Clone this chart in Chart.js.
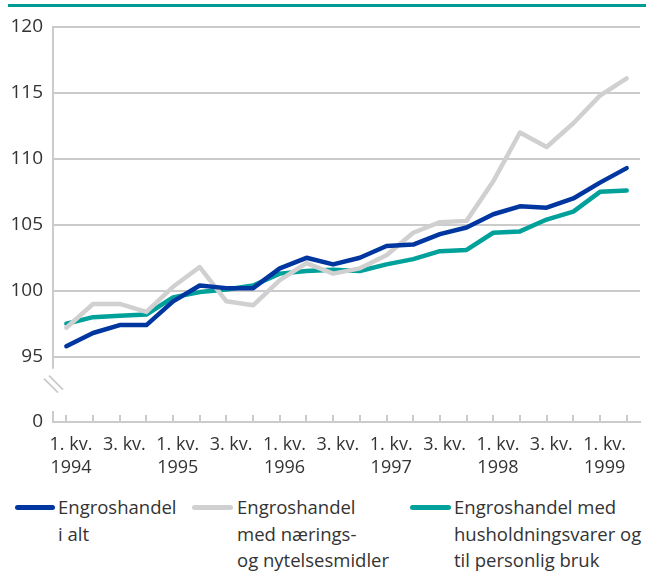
<!DOCTYPE html>
<html>
<head>
<meta charset="utf-8">
<script src="https://cdn.jsdelivr.net/npm/chart.js@4.4.1/dist/chart.umd.min.js"></script>
<style>
  body { margin: 0; background: #fff; font-family: "Open Sans", sans-serif; color: #333; }
  #wrap { position: relative; width: 646px; height: 574px; }
  #topRule { position: absolute; left: 8px; right: 0; top: 4px; height: 3px; background: #009a94; }
  #chartBox { position: absolute; left: 0; top: 0; width: 646px; height: 494px; }
  .legend { position: absolute; top: 494px; font-size: 18.5px; line-height: 26.5px; color: #333; white-space: nowrap; }
  .legend .sw { position: absolute; top: 11px; height: 5px; border-radius: 3px; }
</style>
</head>
<body>
<div id="wrap">
  <div id="chartBox"><canvas id="indexChart"></canvas></div>
  <div id="topRule"></div>
  <div class="legend" style="left:58px"><span class="sw" style="left:-43px;width:40px;background:#0036a0"></span>Engroshandel<br>i alt</div>
  <div class="legend" style="left:237px"><span class="sw" style="left:-45px;width:41px;background:#d0d0d0"></span>Engroshandel<br>med nærings-<br>og nytelsesmidler</div>
  <div class="legend" style="left:454px"><span class="sw" style="left:-44px;width:41px;background:#00a19a"></span>Engroshandel med<br>husholdningsvarer og<br>til personlig bruk</div>
</div>
<script>
// quarters 1994 Q1 - 1999 Q2
const quarters = [
  "1. kv. 1994", "2. kv. 1994", "3. kv. 1994", "4. kv. 1994",
  "1. kv. 1995", "2. kv. 1995", "3. kv. 1995", "4. kv. 1995",
  "1. kv. 1996", "2. kv. 1996", "3. kv. 1996", "4. kv. 1996",
  "1. kv. 1997", "2. kv. 1997", "3. kv. 1997", "4. kv. 1997",
  "1. kv. 1998", "2. kv. 1998", "3. kv. 1998", "4. kv. 1998",
  "1. kv. 1999", "2. kv. 1999"
];
const tickLabels = [
  ["1. kv.", "1994"], "", ["3. kv.", ""], "",
  ["1. kv.", "1995"], "", ["3. kv.", ""], "",
  ["1. kv.", "1996"], "", ["3. kv.", ""], "",
  ["1. kv.", "1997"], "", ["3. kv.", ""], "",
  ["1. kv.", "1998"], "", ["3. kv.", ""], "",
  ["1. kv.", "1999"], ""
];

const totalValues = [95.8, 96.8, 97.4, 97.4, 99.2, 100.4, 100.2, 100.2, 101.7, 102.5, 102.0, 102.5,
  103.4, 103.5, 104.3, 104.8, 105.8, 106.4, 106.3, 107.0, 108.2, 109.3];
const foodValues = [97.2, 99.0, 99.0, 98.4, 100.3, 101.8, 99.2, 98.9, 100.8, 102.1, 101.3, 101.7,
  102.7, 104.4, 105.2, 105.3, 108.3, 112.0, 110.9, 112.7, 114.8, 116.1];
const householdValues = [97.5, 98.0, 98.1, 98.2, 99.5, 99.9, 100.1, 100.4, 101.3, 101.5, 101.6, 101.5,
  102.0, 102.4, 103.0, 103.1, 104.4, 104.5, 105.4, 106.0, 107.5, 107.6];

const yTicks = [95, 100, 105, 110, 115, 120];
const yBreakValue = 90.05; // where "0" sits below the axis break

const gridGray = "#cbcbcb";

// y axis line with a break between 95 and 0
const axisBreak = {
  id: "axisBreak",
  afterDraw(chart) {
    const c = chart.ctx;
    const y = chart.scales.y;
    const x0 = chart.chartArea.left;
    const yTop = y.getPixelForValue(120);
    const y95 = y.getPixelForValue(95);
    const yBot = chart.chartArea.bottom;
    c.save();
    c.strokeStyle = gridGray;
    c.lineWidth = 2;
    c.beginPath();
    c.moveTo(x0, yTop - 1);
    c.lineTo(x0, y95 + 12);
    c.moveTo(x0, yBot - 11);
    c.lineTo(x0, yBot);
    c.stroke();
    c.lineWidth = 1.8;
    c.beginPath();
    c.moveTo(x0 - 9, y95 + 22);
    c.lineTo(x0 + 5, y95 + 36);
    c.moveTo(x0 - 4, y95 + 19);
    c.lineTo(x0 + 10, y95 + 33);
    c.stroke();
    c.restore();
  }
};

const ctx = document.getElementById("indexChart").getContext("2d");
const indexChart = new Chart(ctx, {
  type: "line",
  data: {
    labels: quarters,
    datasets: [
      { label: "Engroshandel i alt", data: totalValues, borderColor: "#0036a0" },
      { label: "Engroshandel med nærings- og nytelsesmidler", data: foodValues, borderColor: "#d0d0d0" },
      { label: "Engroshandel med husholdningsvarer og til personlig bruk", data: householdValues, borderColor: "#00a19a" }
    ]
  },
  options: {
    responsive: true,
    maintainAspectRatio: false,
    animation: false,
    layout: { padding: { top: 27, right: 6, left: 0, bottom: 0 } },
    elements: {
      line: { borderWidth: 4.5, tension: 0, borderCapStyle: "round", borderJoinStyle: "round" },
      point: { radius: 0 }
    },
    plugins: {
      legend: { display: false },
      tooltip: { enabled: false }
    },
    scales: {
      x: {
        offset: true,
        grid: { drawOnChartArea: false, drawTicks: true, tickLength: -7, color: gridGray, lineWidth: 2 },
        border: { display: true, color: gridGray, width: 2 },
        ticks: {
          autoSkip: false,
          maxRotation: 0,
          padding: 18,
          color: "#333",
          font: { family: "Open Sans", size: 18, lineHeight: 1.3 },
          // labels sit a little right of their tick in the original
          callback: function (v, i) {
            const l = tickLabels[i];
            return Array.isArray(l) ? l.map(function (s) { return s ? "  " + s : s; }) : l;
          }
        },
        afterFit: function (scale) { scale.height = 72; }
      },
      y: {
        min: yBreakValue,
        max: 120,
        afterBuildTicks: function (scale) {
          scale.ticks = [yBreakValue].concat(yTicks).map(function (v) { return { value: v }; });
        },
        afterFit: function (scale) { scale.width = 53; },
        grid: {
          drawTicks: false,
          lineWidth: 2,
          color: function (c) { return c.tick && c.tick.value < 95 ? "rgba(0,0,0,0)" : gridGray; }
        },
        border: { display: false },
        ticks: {
          padding: 10,
          color: "#333",
          font: { family: "Open Sans", size: 19 },
          callback: function (v) { return v < 95 ? "0" : v; }
        }
      }
    }
  },
  plugins: [axisBreak]
});
</script>
</body>
</html>
